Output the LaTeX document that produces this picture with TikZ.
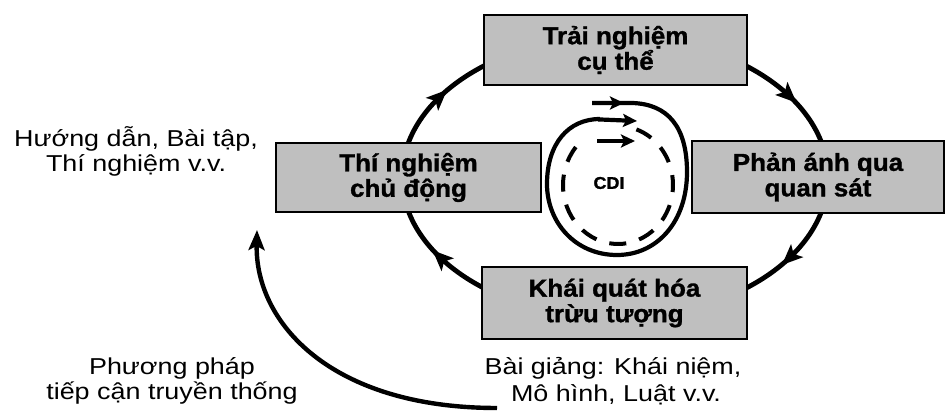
\documentclass[tikz,border=0pt]{standalone}
\usepackage{fontspec}
\setmainfont{Liberation Sans}
\newfontfamily\lblfont[FakeStretch=1.17]{Liberation Sans}
\newfontfamily\boxfont[FakeStretch=1.06, BoldFeatures={FakeBold=1.2}]{Liberation Sans}
\usetikzlibrary{arrows.meta,decorations.markings}
\tikzset{
  box/.style={draw, line width=2.5, fill=black!25, align=center, inner sep=0pt,
    font=\boxfont\bfseries\fontsize{24.5}{25.5}\selectfont},
  lbl/.style={anchor=base, inner sep=0pt, font=\lblfont\fontsize{23}{25}\selectfont},
  cyc/.style={line width=4.8, postaction={decorate}, decoration={markings,
    mark=at position 0.5 with {\fill[line width=1pt] (10pt,0pt) -- (-11pt,9pt) -- (-6pt,0pt) -- (-11pt,-9pt) -- cycle;}}},
  spiral/.style={line width=4.2},
  sparrow/.style={line width=4.2, -{Stealth[length=14pt,width=13pt,inset=3pt]}},
  dash loop/.style={line width=4, dash pattern=on 17pt off 13.4pt},
  bigarrow/.style={line width=4.4, -{Stealth[length=20pt,width=16pt,inset=4pt]}}
}
\begin{document}
\begin{tikzpicture}[x=1pt,y=1pt]
\useasboundingbox (0,0) rectangle (946,412);
\coordinate (C) at (615,235);
% cycle arcs (drawn before the boxes, which cover their ends)
\draw[cyc] (C) ++(169:213 and 141) arc[start angle=169, end angle=125, x radius=213, y radius=141];
\draw[cyc] (C) ++(55:213 and 141) arc[start angle=55, end angle=12, x radius=213, y radius=141];
\draw[cyc] (C) ++(-12:213 and 141) arc[start angle=-12, end angle=-55, x radius=213, y radius=141];
\draw[cyc] (C) ++(235:213 and 141) arc[start angle=235, end angle=191, x radius=213, y radius=141];
% boxes
\node[box, minimum width=263, minimum height=70] (T) at (615.5,362) {Trải nghiệm\\cụ thể};
\node[box, minimum width=265, minimum height=69] (L) at (408.5,234.5) {Thí nghiệm\\chủ động};
\node[box, minimum width=252, minimum height=72] (R) at (818,235) {Phản ánh qua\\quan sát};
\node[box, minimum width=265, minimum height=72] (B) at (614.5,109) {Khái quát hóa\\trừu tượng};
% CDI spiral
\coordinate (s0) at (592,309);
\coordinate (s1) at (624,309);
\coordinate (s2) at (637,291);
\draw[spiral] (s0) -- (632,309) .. controls (668,308) and (687,285) .. (687,240)
  .. controls (687,190) and (657,157) .. (617,157)
  .. controls (575,157) and (547,190) .. (547,228)
  .. controls (547,268) and (568,293) .. (600,293);
\draw[sparrow] (s0) -- (s1);
\draw[sparrow] (598,292.6) -- (s2);
\coordinate (D) at (618,227);
\draw[dash loop] (D) ++(140:55 and 59) arc[start angle=140, end angle=432, x radius=55, y radius=59];
\coordinate (a3s) at (597,271);
\coordinate (a3e) at (635,271);
\draw[sparrow] (a3s) -- (a3e);
\node[font=\boxfont\bfseries\fontsize{17}{17}\selectfont, inner sep=0pt] (cdi) at (609,229) {CDI};
% labels
\node[lbl] (h1) at (136,265) {Hướng dẫn, Bài tập,};
\node[lbl] (h2) at (136,240) {Thí nghiệm v.v.};
\node[lbl] (p1) at (172,37) {Phương pháp};
\node[lbl] (p2) at (172,12) {tiếp cận truyền thống};
\node[lbl] (b1) at (613,37) {Bài giảng: Khái niệm,};
\node[lbl] (b2) at (616,10) {Mô hình, Luật v.v.};
% big curved arrow
\coordinate (g0) at (497,4);
\coordinate (g1) at (257,182);
\draw[bigarrow] (g0) .. controls (330,4) and (255,90) .. (g1);
\end{tikzpicture}
\end{document}
